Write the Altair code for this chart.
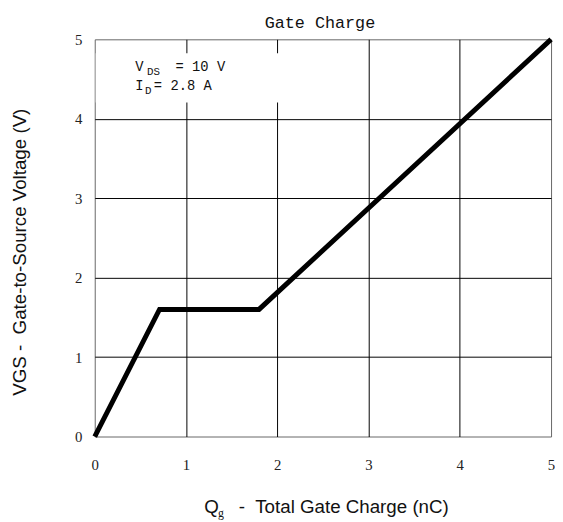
import altair as alt
import pandas as pd

# ---- data ----
qg = [0, 0.71, 1.8, 5.0]          # total gate charge (nC)
vgs = [0, 1.6, 1.6, 5.0]          # gate-to-source voltage (V)
tick_vals = [0, 1, 2, 3, 4, 5]

NB = "\u00a0"
chart_title = "Gate Charge"
x_title_main = "Q"
x_title_sub = "g"
x_title_rest = "-" + NB + NB + "Total Gate Charge (nC)"
y_title = "VGS -" + NB + NB + "Gate-to-Source Voltage (V)"
ann1 = ["V", "DS", "= 10 V"]
ann2 = ["I", "D", "= 2.8 A"]

W, H = 463, 403

df = pd.DataFrame({"qg": qg, "vgs": vgs})
one = pd.DataFrame({"k": [0]})

grid_op = {"condition": {"test": "datum.value == 0 || datum.value == 5", "value": 0}, "value": 1}

common_axis = dict(
    values=tick_vals, grid=True, gridColor="black", gridWidth=1, gridOpacity=grid_op,
    domain=False, ticks=False, labelFont="Liberation Serif", labelFontSize=15,
    labelColor="#222", title=None, labelFlush=False, labelOverlap=False,
)

x_enc = alt.X("qg:Q", scale=alt.Scale(domain=[0, 5], nice=False, zero=True),
              axis=alt.Axis(labelPadding=21, **common_axis))
y_enc = alt.Y("vgs:Q", scale=alt.Scale(domain=[0, 5], nice=False, zero=True),
              axis=alt.Axis(labelPadding=13, **common_axis))

line = alt.Chart(df).mark_line(color="black", strokeWidth=5, strokeJoin="miter",
                               strokeCap="butt").encode(x=x_enc, y=y_enc, order="qg:Q")

cover = alt.Chart(one).mark_rect(color="white").encode(
    x=alt.value(1), x2=alt.value(194), y=alt.value(14), y2=alt.value(64))


def txt(s, x, y, font="Liberation Mono", size=14, align="left", baseline="alphabetic", angle=0):
    kw = dict(font=font, fontSize=size, align=align, baseline=baseline, color="#111")
    if angle:
        kw["angle"] = angle
    return alt.Chart(one).mark_text(**kw).encode(
        x=alt.value(x), y=alt.value(y), text=alt.value(s))


texts = [
    txt(chart_title, W / 2 - 3, -11, size=17, align="center"),
    txt(ann1[0], 41, 32),
    txt(ann1[1], 53, 36, size=11),
    txt(ann1[2], 82, 32),
    txt(ann2[0], 41, 51),
    txt(ann2[1], 51, 55, size=11),
    txt(ann2[2], 60, 51),
    txt(x_title_main, 111, 481, font="Liberation Sans", size=19),
    txt(x_title_sub, 125, 485, font="Liberation Serif", size=12),
    txt(x_title_rest, 146, 481, font="Liberation Sans", size=19),
    txt(y_title, -76, 216, font="Liberation Sans", size=19, align="center",
        baseline="middle", angle=270),
]

chart = alt.layer(cover, line, *texts).properties(
    width=W, height=H,
    autosize=alt.AutoSizeParams(type="none"),
    padding={"left": 88, "top": 28, "right": 4, "bottom": 87},
    background="white",
).configure_view(stroke="#666", strokeWidth=1)

chart.save("out.html", embed_options={"renderer": "svg", "actions": False})
